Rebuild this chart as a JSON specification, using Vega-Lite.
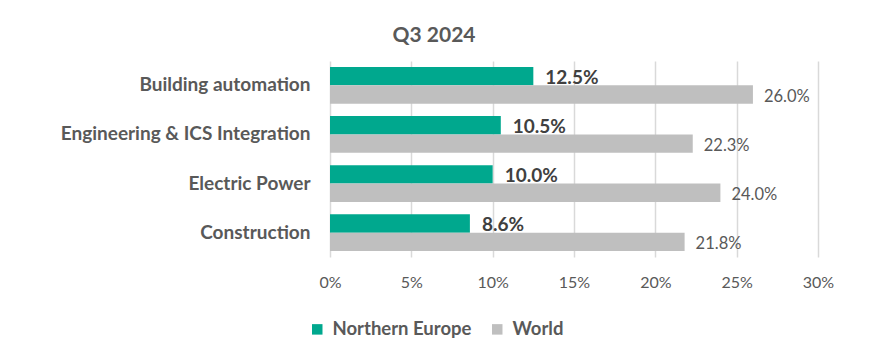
{
  "$schema": "https://vega.github.io/schema/vega-lite/v6.json",
  "width": 488,
  "height": 196,
  "autosize": "none",
  "padding": {"left": 330, "top": 61, "right": 51, "bottom": 107},
  "background": "white",
  "title": {
    "text": "Q3 2024",
    "anchor": "middle",
    "dx": -140,
    "offset": 15,
    "fontSize": 21,
    "fontWeight": "bold",
    "color": "#595959",
    "font": "Lato"
  },
  "data": {
    "values": [
      {"category": "Building automation", "series": "Northern Europe", "value": 0.125},
      {"category": "Building automation", "series": "World", "value": 0.26},
      {"category": "Engineering & ICS Integration", "series": "Northern Europe", "value": 0.105},
      {"category": "Engineering & ICS Integration", "series": "World", "value": 0.223},
      {"category": "Electric Power", "series": "Northern Europe", "value": 0.10},
      {"category": "Electric Power", "series": "World", "value": 0.24},
      {"category": "Construction", "series": "Northern Europe", "value": 0.086},
      {"category": "Construction", "series": "World", "value": 0.218}
    ]
  },
  "encoding": {
    "y": {
      "field": "category",
      "type": "nominal",
      "sort": null,
      "scale": {"paddingInner": 0.25, "paddingOuter": 0.12},
      "axis": {
        "title": null,
        "domain": false,
        "ticks": false,
        "labelPadding": 20,
        "labelFontSize": 19,
        "labelFontWeight": "bold",
        "labelColor": "#595959",
        "labelFont": "Lato",
        "labelLimit": 400
      }
    },
    "yOffset": {
      "field": "series",
      "type": "nominal",
      "scale": {"domain": ["Northern Europe", "World"], "paddingInner": 0}
    },
    "x": {
      "field": "value",
      "type": "quantitative",
      "scale": {"domain": [0, 0.3], "nice": false},
      "axis": {
        "title": null,
        "format": ".0%",
        "values": [0, 0.05, 0.1, 0.15, 0.2, 0.25, 0.3],
        "domain": false,
        "ticks": false,
        "grid": true,
        "gridColor": "#D9D9D9",
        "gridWidth": 1.5,
        "labelFlush": false,
        "labelPadding": 17,
        "labelFontSize": 16,
        "labelColor": "#595959",
        "labelFont": "Lato"
      }
    }
  },
  "layer": [
    {
      "mark": {"type": "bar"},
      "encoding": {
        "color": {
          "field": "series",
          "type": "nominal",
          "scale": {"domain": ["Northern Europe", "World"], "range": ["#00A88E", "#BFBFBF"]},
          "legend": {
            "title": null,
            "orient": "none",
            "direction": "horizontal",
            "legendX": -22,
            "legendY": 259,
            "symbolType": "square",
            "symbolSize": 110,
            "symbolStrokeWidth": 0,
            "labelFontSize": 18.5,
            "labelFontWeight": "bold",
            "labelColor": "#595959",
            "labelFont": "Lato",
            "columnPadding": 16,
            "labelOffset": 6
          }
        }
      }
    },
    {
      "transform": [{"filter": "datum.series === 'Northern Europe'"}],
      "mark": {"type": "text", "align": "left", "baseline": "middle", "dx": 12, "dy": 2, "fontSize": 19, "fontWeight": "bold", "color": "#404040", "font": "Lato"},
      "encoding": {"text": {"field": "value", "type": "quantitative", "format": ".1%"}}
    },
    {
      "transform": [{"filter": "datum.series === 'World'"}],
      "mark": {"type": "text", "align": "left", "baseline": "middle", "dx": 11, "dy": 2, "fontSize": 16.5, "color": "#595959", "font": "Lato"},
      "encoding": {"text": {"field": "value", "type": "quantitative", "format": ".1%"}}
    }
  ],
  "config": {"view": {"stroke": null}}
}
